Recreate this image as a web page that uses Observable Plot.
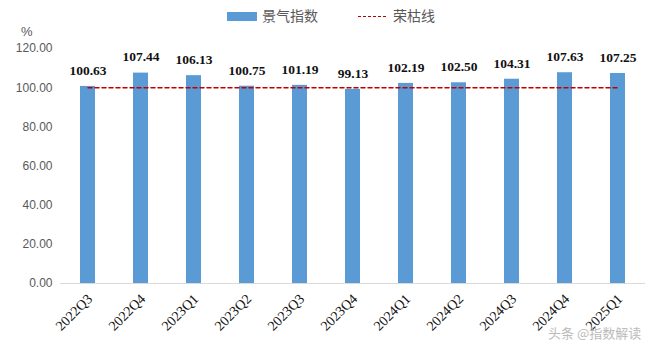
<!DOCTYPE html>
<html><head><meta charset="utf-8">
<script src="https://cdn.jsdelivr.net/npm/d3@7"></script>
<script src="https://cdn.jsdelivr.net/npm/@observablehq/plot@0.6"></script>
<style>
body{margin:0;background:#fff;}
#wrap{position:relative;width:660px;height:347px;overflow:hidden;}
.leg{position:absolute;font-family:"Noto Sans CJK SC",sans-serif;font-size:14px;color:#595959;line-height:16px;}
</style></head>
<body><div id="wrap"></div>
<script>
const quarters = ["2022Q3","2022Q4","2023Q1","2023Q2","2023Q3","2023Q4","2024Q1","2024Q2","2024Q3","2024Q4","2025Q1"];
const index = [100.63,107.44,106.13,100.75,101.19,99.13,102.19,102.50,104.31,107.63,107.25];
const boomBust = 100;
const yTicks = [0,20,40,60,80,100,120];
const seriesNames = ["景气指数","荣枯线"];

const data = quarters.map((q,i)=>({q, v:index[i]}));

const chart = Plot.plot({
  width:660, height:347,
  marginLeft:60, marginRight:15, marginTop:48, marginBottom:64,
  x:{domain:quarters, paddingInner:0.72, paddingOuter:0.37, label:null},
  y:{domain:[0,120], ticks:yTicks, label:null},
  style:{background:"#fff"},
  marks:[
    Plot.axisY({ticks:yTicks, tickFormat:d3.format(".2f"), tickSize:0, tickPadding:8,
      fontFamily:"Liberation Sans, Arial, sans-serif", fontSize:12, fill:"#595959", label:null}),
    Plot.axisX({tickSize:0, tickPadding:13, tickRotate:-45, dx:2,
      fontFamily:"Liberation Serif, Times New Roman, serif", fontSize:14, fill:"#111", label:null}),
    Plot.barY(data,{x:"q", y:"v", fill:"#5B9BD5"}),
    Plot.ruleY([0],{stroke:"#d9d9d9", strokeWidth:1}),
    Plot.lineY(quarters.map(q=>({q, v:boomBust})),{x:"q", y:"v", stroke:"#C00000", strokeWidth:1.5, strokeDasharray:"4,3"}),
    Plot.text(data,{x:"q", y:"v", text:d=>d.v.toFixed(2), dy:-16,
      fontFamily:"Liberation Serif, Times New Roman, serif", fontWeight:"bold", fontSize:13.5, fill:"#111"})
  ]
});
const wrap = document.getElementById("wrap");
wrap.appendChild(chart);

function add(html, css){const d=document.createElement("div");d.className="leg";d.innerHTML=html;Object.assign(d.style,css);wrap.appendChild(d);}
add(`<span style="display:inline-block;width:30px;height:9px;background:#5B9BD5;vertical-align:middle;margin-right:5px;position:relative;top:-1px"></span>${seriesNames[0]}`,{left:"227px",top:"7px"});
add(`<span style="display:inline-block;width:28px;border-top:1.5px dashed #C00000;vertical-align:middle;margin-right:7px;position:relative;top:-1px"></span>${seriesNames[1]}`,{left:"358px",top:"7px"});
add("%",{left:"21px",top:"24px",fontFamily:"Liberation Sans, Arial, sans-serif",fontSize:"13px",color:"#595959"});
add("头条 @指数解读",{left:"548px",top:"325px",fontSize:"13px",color:"#bbbbbb"});
</script></body></html>
